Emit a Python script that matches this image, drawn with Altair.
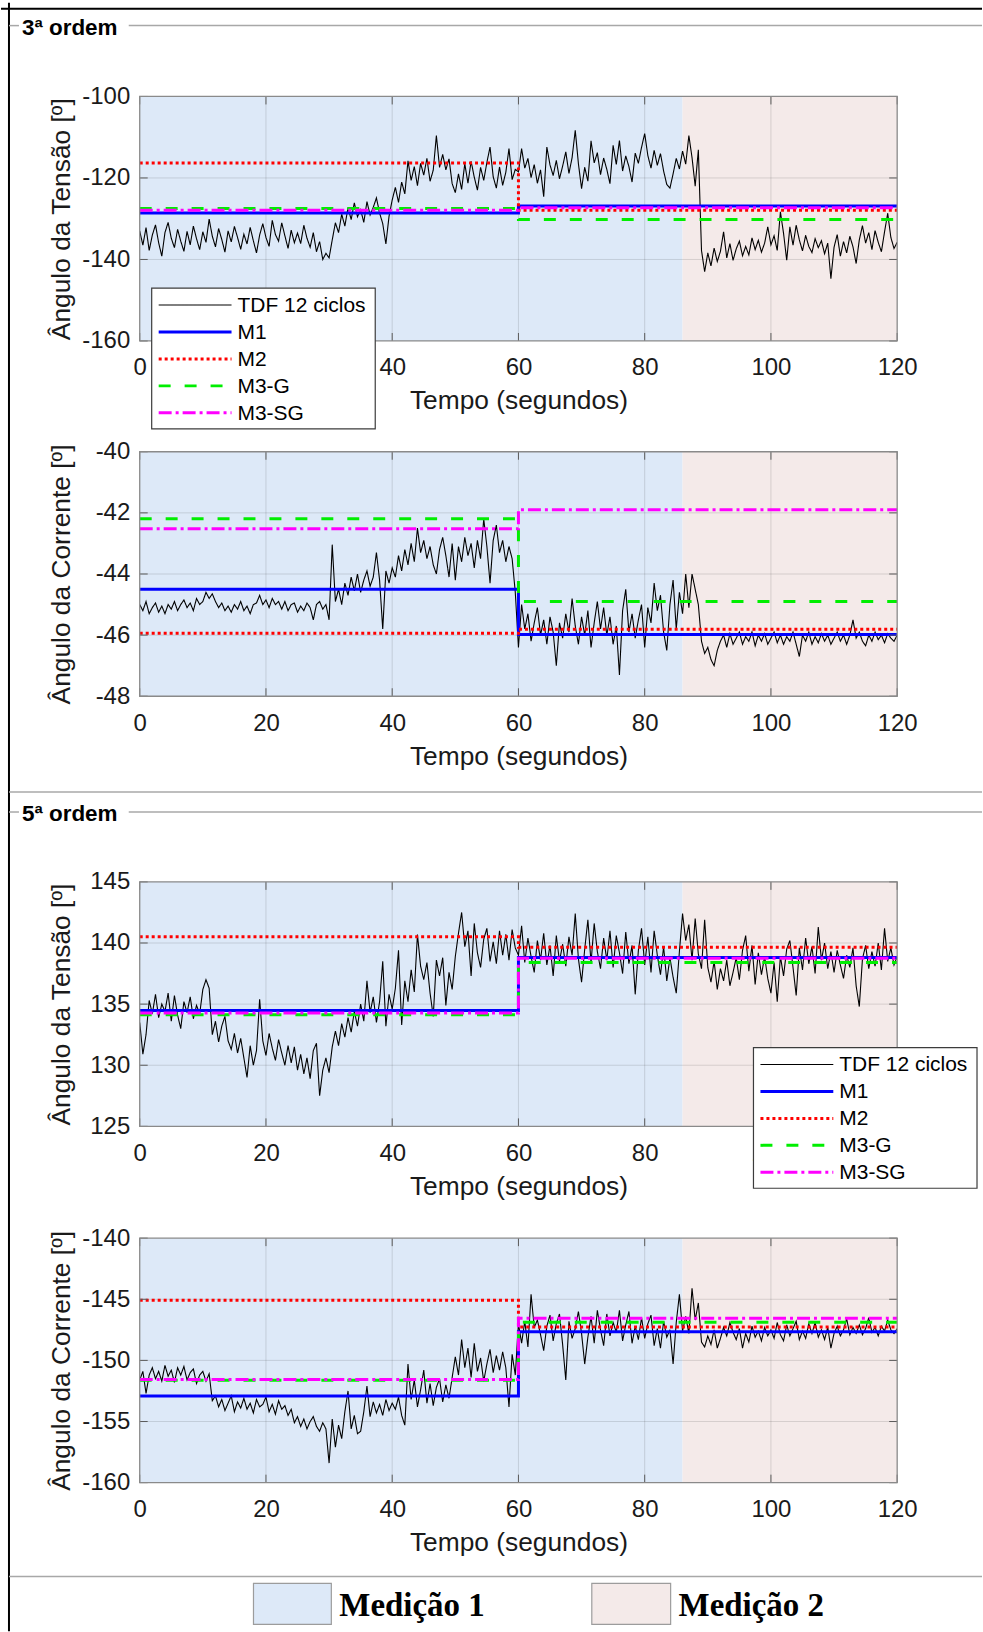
import altair as alt
import pandas as pd

FONTE = "Liberation Sans"
FONTE_SERIF = "Liberation Serif"
COR_TEXTO = "#1a1a1a"
COR_EIXO = "#8a8a8a"
COR_TICK = "#5a5a5a"
COR_SEP = "#a8a8a8"

# ------------------------------------------------------------------ data
passo = 0.5            # s between consecutive 12-cycle DFT estimates
t_fim = 120
t_troca = 60           # instant where the block estimators change value
limites_med = [0, 86, 120]
nomes_med = ["Medição 1", "Medição 2"]
cores_med = ["#dde9f8", "#f4eae9"]
secoes = ["3ª ordem", "5ª ordem"]

series = ["TDF 12 ciclos", "M1", "M2", "M3-G", "M3-SG"]
cores = ["#000000", "#0000ff", "#ff0000", "#00ee00", "#ff00ff"]
tracos = [[1, 0], [1, 0], [3, 3], [12, 14], [13, 4, 3, 4]]
larguras = [1.1, 3, 3, 3, 3]

x_ticks = [0, 20, 40, 60, 80, 100, 120]

# 3rd harmonic - voltage angle, DFT 12 cycles
tdf_tensao_3 = [
    -133.0, -136.5, -132.2, -137.8, -134.0, -131.5, -135.9, -139.2, -133.4, -130.9, -134.8, -137.1, -132.6, -135.5, -138.0, -133.1, -136.4, -131.8, -134.9, -137.6,
    -133.2, -135.8, -130.1, -134.3, -136.9, -132.4, -135.1, -138.2, -133.0, -135.7, -131.9, -134.6, -137.5, -133.8, -136.2, -132.1, -135.4, -138.4, -134.0, -131.2,
    -134.6, -136.8, -130.4, -133.9, -135.5, -131.0, -134.2, -137.3, -132.8, -135.9, -133.5, -136.1, -131.6, -134.8, -137.0, -133.4, -138.1, -135.6, -140.0, -138.5,
    -139.6, -135.2, -131.0, -133.4, -128.9, -131.8, -127.3, -130.2, -126.1, -129.5, -127.8, -130.9, -125.8, -129.1, -127.2, -124.9, -128.6, -131.2, -136.2, -129.4,
    -125.4, -122.3, -126.0, -121.0, -123.9, -115.8, -120.6, -117.2, -121.9, -116.4, -119.3, -115.2, -120.8, -118.1, -109.6, -117.4, -114.2, -118.0, -115.3, -121.4,
    -123.6, -119.0, -122.8, -116.5, -121.3, -115.9, -119.8, -123.0, -117.4, -120.6, -116.2, -112.4, -119.7, -122.5, -117.3, -121.8, -118.6, -112.8, -120.4, -117.9,
    -118.5, -112.8, -117.6, -115.2, -119.9, -116.7, -121.3, -118.0, -124.6, -112.4, -116.8, -119.4, -115.7, -120.2, -117.1, -113.6, -118.9, -115.0, -108.3, -116.5,
    -122.6, -117.4, -120.8, -110.9, -116.3, -113.8, -119.2, -115.1, -117.9, -121.4, -112.0, -116.7, -110.8, -118.3, -114.6, -117.2, -121.0, -113.9, -116.4, -112.5,
    -109.1, -114.5, -117.6, -113.2, -116.9, -114.0, -118.3, -121.6, -122.5, -119.0, -115.2, -117.8, -113.4, -116.6, -109.6, -115.0, -122.0, -113.1, -137.8, -143.0,
    -138.4, -141.6, -137.2, -140.5, -138.0, -133.2, -139.6, -136.1, -140.2, -137.4, -135.5, -139.1, -136.8, -138.9, -134.7, -137.6, -135.3, -138.2, -136.0, -132.0,
    -136.4, -134.2, -137.8, -128.3, -133.6, -140.2, -132.0, -136.5, -131.6, -135.2, -137.9, -134.1, -136.8, -138.3, -134.9, -137.1, -135.4, -138.6, -136.0, -144.7,
    -137.0, -133.9, -139.2, -135.6, -138.4, -134.3, -136.9, -141.0, -135.2, -131.7, -136.0, -133.4, -137.6, -132.9, -135.8, -138.1, -133.2, -128.7, -134.6, -137.3,
    -135.8,
]

# 3rd harmonic - current angle
tdf_corrente_3 = [
    -45.0, -45.2, -44.9, -45.3, -45.1, -44.95, -45.25, -45.05, -45.3, -45.0, -45.15, -44.9, -45.2, -45.0, -44.85, -45.1, -44.95, -45.2, -44.8, -45.0,
    -44.9, -44.6, -44.8, -44.65, -44.9, -45.1, -44.95, -45.2, -45.05, -45.25, -45.0, -45.15, -44.9, -45.2, -45.05, -45.3, -45.0, -44.95, -44.7, -45.0,
    -44.85, -45.1, -44.8, -45.0, -44.9, -45.15, -44.9, -45.2, -45.0, -44.95, -45.25, -45.05, -45.2, -44.95, -45.1, -45.5, -45.0, -44.9, -45.15, -45.0,
    -45.5, -43.04, -44.9, -44.5, -45.0, -44.3, -44.7, -44.1, -44.55, -44.0, -44.6, -44.2, -43.9, -44.4, -44.1, -43.3, -44.2, -45.8, -43.9, -44.3,
    -43.8, -44.1, -43.4, -43.9, -43.2, -43.7, -43.0, -43.6, -42.5, -43.3, -42.9, -43.5, -43.1, -43.7, -44.0, -43.2, -42.8, -43.4, -44.1, -43.0,
    -44.2, -43.1, -43.6, -42.8, -43.4, -43.0, -43.8, -42.9, -43.5, -42.2, -43.1, -44.3, -42.9, -42.4, -43.3, -42.9, -43.6, -43.1, -43.5, -44.6,
    -46.4, -45.0, -45.8, -45.3, -46.2, -45.6, -45.1, -46.0, -45.5, -46.3, -45.4, -45.9, -47.0, -45.6, -46.1, -45.3, -45.9, -44.8, -45.7, -46.3,
    -45.4, -46.0, -45.2, -46.4, -45.6, -44.9, -45.8, -45.1, -46.0, -45.4, -46.3, -45.7, -47.3, -45.2, -44.5, -45.9, -45.3, -46.1, -45.5, -45.0,
    -46.4, -45.1, -45.6, -44.3, -45.2, -44.7, -45.9, -46.5, -45.0, -44.2, -45.8, -44.6, -45.3, -44.0, -45.1, -44.0, -44.5, -45.0, -46.2, -46.6,
    -46.4, -46.8, -47.0, -46.5, -46.2, -46.0, -46.4, -45.95, -46.3, -46.1, -45.9, -46.3, -46.05, -46.2, -45.9, -46.35, -46.0, -46.2, -45.95, -46.3,
    -46.1, -45.9, -46.25, -46.0, -46.3, -46.05, -46.2, -45.9, -46.3, -46.7, -46.0, -46.2, -45.9, -46.3, -46.05, -46.25, -45.95, -46.2, -46.0, -46.3,
    -46.1, -45.9, -46.2, -46.0, -46.3, -46.0, -45.5, -46.1, -45.9, -46.2, -46.35, -46.0, -46.2, -45.9, -46.15, -46.0, -46.25, -45.95, -46.1, -46.2,
    -46.0,
]

# 5th harmonic - voltage angle
tdf_tensao_5 = [
    133.5, 130.9, 132.5, 135.3, 134.2, 135.8, 133.9, 135.0, 134.4, 135.9, 133.6, 135.7, 134.1, 133.0, 135.2, 134.3, 135.6, 133.8, 134.9, 134.2,
    136.2, 137.0, 136.3, 132.5, 133.6, 131.9, 133.2, 134.0, 132.0, 131.3, 132.6, 131.0, 132.2, 130.6, 129.0, 131.6, 130.0, 131.2, 135.4, 132.0,
    130.8, 132.6, 131.4, 130.4, 132.1, 131.0, 130.0, 131.6, 130.2, 131.5, 129.6, 130.9, 129.3, 130.6, 128.9, 131.2, 131.8, 127.5, 129.6, 130.6,
    129.4, 131.5, 132.8, 131.6, 133.4, 132.3, 133.9, 132.7, 134.4, 133.2, 135.0, 133.6, 136.9, 134.3, 135.6, 133.5, 135.2, 138.5, 133.2, 135.8,
    134.6, 136.3, 139.4, 133.3, 136.9, 135.2, 137.8, 136.0, 140.7, 138.1, 137.0, 138.4, 135.9, 134.0, 138.6, 137.3, 138.8, 134.9, 137.6, 136.2,
    138.9, 140.8, 142.5, 139.7, 141.0, 137.3, 141.6, 139.2, 138.0, 140.3, 141.2, 138.5, 140.1, 138.3, 141.0, 139.0, 140.7, 138.6, 141.1, 139.6,
    139.0, 141.4, 138.4, 140.4, 138.9, 137.6, 140.2, 138.6, 140.8, 138.2, 139.8, 137.3, 140.6, 138.5, 139.9, 138.1, 140.5, 139.0, 142.4, 138.7,
    136.8, 139.5, 141.9, 138.4, 141.6, 139.3, 137.9, 140.4, 138.6, 141.0, 138.0, 140.6, 139.2, 137.5, 140.9, 138.3, 139.8, 135.8, 139.4, 141.2,
    138.2, 140.5, 137.6, 141.0, 139.0, 137.4, 139.7, 136.9, 138.8, 137.2, 135.9, 139.3, 142.4, 140.2, 141.5, 138.6, 142.0, 139.1, 137.9, 141.9,
    138.0, 136.8, 138.5, 136.2, 137.9, 136.9, 138.6, 136.5, 137.6, 138.8, 137.0, 139.4, 140.6, 137.7, 139.8, 136.6, 139.2, 137.4, 138.9, 137.1,
    135.9, 138.4, 135.2, 138.9, 137.3, 139.5, 140.2, 138.0, 135.7, 139.6, 137.8, 140.4, 138.3, 139.7, 137.5, 141.3, 138.6, 140.0, 137.9, 139.3,
    137.6, 139.4, 138.2, 137.1, 139.0, 138.0, 139.6, 136.5, 134.8, 138.7, 139.8, 137.9, 139.3, 138.1, 140.0, 137.8, 141.2, 138.5, 139.6, 138.2,
    138.9,
]

# 5th harmonic - current angle
tdf_corrente_5 = [
    -151.6, -150.9, -152.7, -151.2, -150.6, -151.5, -150.9, -151.7, -150.4, -151.3, -150.8, -151.8, -150.6, -151.2, -150.5, -151.6, -151.0, -150.7, -151.9, -151.2,
    -150.9, -151.7, -151.1, -153.3, -152.9, -153.8, -153.2, -154.1, -153.5, -152.9, -154.2, -153.4, -153.9, -153.1, -154.0, -153.5, -154.3, -153.2, -153.8, -153.6,
    -153.0, -154.2, -153.6, -154.4, -153.3, -154.0, -153.7, -154.5, -154.0, -155.1, -154.6, -155.4, -154.8, -155.6, -155.0, -154.6, -155.4, -155.8, -155.1, -155.6,
    -158.4, -154.8, -157.1, -155.3, -156.4, -154.2, -152.5, -155.6, -154.5, -156.0, -155.8, -154.2, -152.1, -154.6, -153.4, -154.3, -153.6, -154.5, -153.2, -154.1,
    -153.5, -154.0, -153.0, -154.5, -155.3, -150.3, -153.2, -151.6, -153.8, -152.4, -150.8, -153.5, -151.9, -153.7, -152.2, -151.5, -153.4, -152.0, -153.1, -151.4,
    -149.7, -151.2, -148.3, -150.6, -149.0, -151.4, -148.6, -150.9, -149.8, -151.7, -150.3, -149.1, -151.0, -149.6, -150.8, -149.3, -150.6, -153.8, -149.5, -151.2,
    -147.0, -148.6, -146.8, -148.9, -144.6, -147.3, -146.7, -147.9, -149.2, -147.2, -146.3, -148.4, -147.0, -146.2, -148.7, -151.6, -146.8, -148.2, -147.4, -146.0,
    -147.8, -150.3, -148.1, -146.4, -148.6, -145.9, -147.5, -148.8, -146.2, -148.0, -146.9, -147.7, -145.9, -148.4, -147.1, -146.0, -148.6, -147.2, -148.3, -146.5,
    -148.2, -147.0, -146.3, -148.8, -147.4, -149.0, -146.8, -148.1, -147.5, -150.3, -146.9, -144.6, -147.6, -146.4, -147.8, -144.1, -146.7, -145.3, -148.5, -148.9,
    -148.0, -148.7, -147.5, -149.0, -148.2, -147.3, -148.0, -146.9, -147.7, -148.3, -147.4, -149.0, -147.8, -148.5, -147.2, -148.1, -147.6, -148.4, -147.3, -148.0,
    -147.5, -148.2, -146.9, -147.9, -148.4, -147.1, -148.0, -147.4, -146.8, -148.3, -147.6, -148.2, -147.0, -147.8, -146.9, -148.1, -147.5, -148.3, -147.3, -149.0,
    -147.8, -147.2, -148.0, -147.5, -146.6, -147.9, -147.3, -147.8, -147.1, -147.9, -147.4, -146.5, -147.7, -147.3, -148.0, -147.2, -147.6, -146.7, -147.5, -147.8,
    -147.4,
]

# block estimators: [value before t_troca, value after t_troca] for M1, M2, M3-G, M3-SG
degraus_tensao_3 = [[-128.6, -126.9], [-116.3, -127.9], [-127.5, -130.2], [-127.9, -127.3]]
degraus_corrente_3 = [[-44.50, -45.98], [-45.94, -45.81], [-42.19, -44.90], [-42.52, -41.90]]
degraus_tensao_5 = [[134.47, 138.81], [140.52, 139.65], [134.14, 138.40], [134.27, 138.75]]
degraus_corrente_5 = [[-152.92, -147.65], [-145.09, -147.27], [-151.62, -146.88], [-151.57, -146.56]]

# ------------------------------------------------------------------ layout
W, H = 759, 245              # plot area of every panel
OX, OY = 139, 94             # top-left corner of the first plot area on the page
PAGE_W, PAGE_H = 983, 1632
TICK = 8
GAPS = [111, 186, 112]       # vertical gaps between consecutive plot areas

um = pd.DataFrame({"u": [0]})


def px(x):
    return x - OX


def py(y):
    return y - OY


def regra(x1, y1, x2, y2, cor, esp):
    return alt.Chart(um).mark_rule(color=cor, strokeWidth=esp).encode(
        x=alt.value(px(x1)), x2=alt.value(px(x2)),
        y=alt.value(py(y1)), y2=alt.value(py(y2)),
    )


def texto(conteudo, x, y, fonte, tamanho, align="left"):
    return alt.Chart(um).mark_text(
        align=align, baseline="alphabetic", font=fonte, fontSize=tamanho,
        fontWeight="bold", color="black",
    ).encode(x=alt.value(px(x)), y=alt.value(py(y)), text=alt.value(conteudo))


def quadro(x1, y1, x2, y2, nome):
    cor = cores_med[nomes_med.index(nome)]
    return alt.Chart(um).mark_rect(fill=cor, stroke="#9c9c9c", strokeWidth=1.2).encode(
        x=alt.value(px(x1)), x2=alt.value(px(x2)),
        y=alt.value(py(y1)), y2=alt.value(py(y2)),
    )


# invisible page-sized frame: fixes the overall drawing extent
extensao_pagina = alt.Chart(um).mark_rect(fill="white", opacity=0).encode(
    x=alt.value(px(0)), x2=alt.value(px(PAGE_W)),
    y=alt.value(py(0)), y2=alt.value(py(PAGE_H)),
)

decoracao = [
    # outer figure border
    regra(0, 6, PAGE_W, 6, "black", 2),
    regra(8, 0, 8, PAGE_H, "black", 2),
    # panel borders with their titles
    regra(8, 23, 18, 23, COR_SEP, 1.5),
    regra(128, 23, PAGE_W, 23, COR_SEP, 1.5),
    texto(secoes[0], 21, 32, FONTE, 22.5),
    regra(8, 791, PAGE_W, 791, COR_SEP, 1.5),
    regra(8, 811, 18, 811, COR_SEP, 1.5),
    regra(128, 811, PAGE_W, 811, COR_SEP, 1.5),
    texto(secoes[1], 21, 820, FONTE, 22.5),
    regra(8, 1577, PAGE_W, 1577, COR_SEP, 1.5),
    # shading key
    quadro(253, 1584, 331, 1625, nomes_med[0]),
    texto(nomes_med[0], 339, 1617, FONTE_SERIF, 33),
    quadro(592, 1584, 671, 1625, nomes_med[1]),
    texto(nomes_med[1], 679, 1617, FONTE_SERIF, 33),
]


def legenda(x0, y0):
    """Boxed key of the five curves, top-left corner at (x0, y0) inside the panel."""
    camadas = [
        alt.Chart(um).mark_rect(fill="white", stroke="#3c3c3c", strokeWidth=1.2).encode(
            x=alt.value(x0), x2=alt.value(x0 + 224), y=alt.value(y0), y2=alt.value(y0 + 141))
    ]
    for i, nome in enumerate(series):
        yl = y0 + 17 + 27 * i
        camadas.append(
            alt.Chart(um).mark_rule(color=cores[i], strokeWidth=larguras[i], strokeDash=tracos[i]).encode(
                x=alt.value(x0 + 7), x2=alt.value(x0 + 80), y=alt.value(yl), y2=alt.value(yl))
        )
        camadas.append(
            alt.Chart(um).mark_text(align="left", baseline="middle", font=FONTE, fontSize=21,
                                    color="black").encode(
                x=alt.value(x0 + 86), y=alt.value(yl + 1), text=alt.value(nome))
        )
    return camadas


def painel(tdf, degraus, y_dom, y_vals, y_titulo, antes=(), depois=()):
    tempo = [i * passo for i in range(len(tdf))]
    df_tdf = pd.DataFrame({"t": tempo, "v": tdf, "serie": series[0], "k": range(len(tdf))})
    linhas = []
    for nome, (v0, v1) in zip(series[1:], degraus):
        for k, (t, v) in enumerate([(0, v0), (t_troca, v0), (t_troca, v1), (t_fim, v1)]):
            linhas.append({"t": t, "v": v, "serie": nome, "k": k})
    df_deg = pd.DataFrame(linhas)

    xs = alt.Scale(domain=[0, t_fim], nice=False, zero=False)
    ys = alt.Scale(domain=y_dom, nice=False, zero=False)

    ax_x = alt.Axis(
        values=x_ticks, title="Tempo (segundos)", grid=False, ticks=False, tickSize=0,
        domain=False, labelFont=FONTE, labelFontSize=24, labelColor=COR_TEXTO,
        labelPadding=27, labelBaseline="middle", labelFlush=False, labelOverlap=False,
        labelExpr="datum.value + ''",
        titleFont=FONTE, titleFontSize=26.4, titleFontWeight="normal", titleColor=COR_TEXTO,
        titleY=60, titleBaseline="middle",
    )
    ax_y = alt.Axis(
        values=y_vals, title=y_titulo, grid=False, ticks=False, tickSize=0,
        domain=False, labelFont=FONTE, labelFontSize=24, labelColor=COR_TEXTO,
        labelPadding=10, labelFlush=False, labelOverlap=False,
        labelExpr="datum.value + ''",
        titleFont=FONTE, titleFontSize=26.4, titleFontWeight="normal", titleColor=COR_TEXTO,
        titleX=-78, titleY=H / 2, titleAngle=270, titleAlign="center", titleBaseline="middle",
    )

    cor = alt.Color("serie:N", scale=alt.Scale(domain=series, range=cores), legend=None)
    traco = alt.StrokeDash("serie:N", scale=alt.Scale(domain=series, range=tracos), legend=None)

    # measurement windows
    df_med = pd.DataFrame({"ini": limites_med[:-1], "fim": limites_med[1:], "med": nomes_med})
    sombra = alt.Chart(df_med).mark_rect().encode(
        x=alt.X("ini:Q", scale=xs, axis=ax_x), x2="fim:Q",
        y=alt.value(0), y2=alt.value(H),
        fill=alt.Fill("med:N", scale=alt.Scale(domain=nomes_med, range=cores_med), legend=None),
    )

    # grid
    grade_x = alt.Chart(pd.DataFrame({"t": x_ticks[1:-1]})).mark_rule(
        color="#262626", opacity=0.15, strokeWidth=1).encode(x=alt.X("t:Q", scale=xs, axis=ax_x))
    grade_y = alt.Chart(pd.DataFrame({"v": y_vals[1:-1]})).mark_rule(
        color="#262626", opacity=0.15, strokeWidth=1).encode(y=alt.Y("v:Q", scale=ys, axis=ax_y))

    curva = alt.Chart(df_tdf).mark_line(strokeWidth=larguras[0], clip=True).encode(
        x=alt.X("t:Q", scale=xs, axis=ax_x), y=alt.Y("v:Q", scale=ys, axis=ax_y),
        color=cor, strokeDash=traco, order="k:Q",
    )
    blocos = alt.Chart(df_deg).mark_line(strokeWidth=larguras[1], clip=True).encode(
        x=alt.X("t:Q", scale=xs, axis=ax_x), y=alt.Y("v:Q", scale=ys, axis=ax_y),
        color=cor, strokeDash=traco, order="k:Q",
    )

    # inward ticks on the four sides
    dx = pd.DataFrame({"t": x_ticks})
    dy = pd.DataFrame({"v": y_vals})
    tk = dict(color=COR_TICK, strokeWidth=1)
    ticks = [
        alt.Chart(dx).mark_rule(**tk).encode(x=alt.X("t:Q", scale=xs, axis=ax_x), y=alt.value(H), y2=alt.value(H - TICK)),
        alt.Chart(dx).mark_rule(**tk).encode(x=alt.X("t:Q", scale=xs, axis=ax_x), y=alt.value(0), y2=alt.value(TICK)),
        alt.Chart(dy).mark_rule(**tk).encode(y=alt.Y("v:Q", scale=ys, axis=ax_y), x=alt.value(0), x2=alt.value(TICK)),
        alt.Chart(dy).mark_rule(**tk).encode(y=alt.Y("v:Q", scale=ys, axis=ax_y), x=alt.value(W - TICK), x2=alt.value(W)),
    ]
    caixa = alt.Chart(um).mark_rect(fill=None, stroke=COR_EIXO, strokeWidth=1.3).encode(
        x=alt.value(0), x2=alt.value(W), y=alt.value(0), y2=alt.value(H))

    camadas = list(antes) + [sombra, grade_x, grade_y, curva, blocos] + ticks + [caixa] + list(depois)
    return alt.layer(*camadas).properties(width=W, height=H)


def espaco(altura):
    # empty strip that separates two panels
    return alt.Chart(um).mark_rule(opacity=0).encode(
        x=alt.value(0), y=alt.value(0), y2=alt.value(1)).properties(width=W, height=altura)


p1 = painel(tdf_tensao_3, degraus_tensao_3, [-160, -100], [-160, -140, -120, -100],
            "Ângulo da Tensão [º]", antes=[extensao_pagina], depois=legenda(12, 192) + decoracao)
p2 = painel(tdf_corrente_3, degraus_corrente_3, [-48, -40], [-48, -46, -44, -42, -40],
            "Ângulo da Corrente [º]")
p3 = painel(tdf_tensao_5, degraus_tensao_5, [125, 145], [125, 130, 135, 140, 145],
            "Ângulo da Tensão [º]", depois=legenda(615, 166))
p4 = painel(tdf_corrente_5, degraus_corrente_5, [-160, -140], [-160, -155, -150, -145, -140],
            "Ângulo da Corrente [º]")

chart = alt.vconcat(
    p1, espaco(GAPS[0]), p2, espaco(GAPS[1]), p3, espaco(GAPS[2]), p4,
    spacing=0, bounds="flush",
).resolve_scale(
    x="independent", y="independent", color="independent",
    strokeDash="independent", fill="independent",
)

chart = chart.properties(padding=0, background="white").configure_view(stroke=None)

chart.save("out.html", embed_options={"renderer": "svg", "actions": False})
